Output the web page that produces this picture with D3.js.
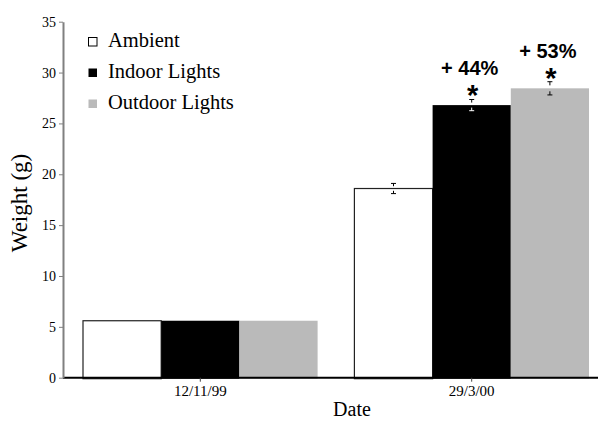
<!DOCTYPE html>
<html>
<head>
<meta charset="utf-8">
<script src="https://cdn.jsdelivr.net/npm/d3@7"></script>
<style>
  html, body { margin: 0; padding: 0; background: #fff; }
  svg { display: block; }
</style>
</head>
<body>
<svg id="chart" width="598" height="421"></svg>
<script>
// Sampling dates and treatment groups
const dates = ["12/11/99", "29/3/00"];
const series = ["Ambient", "Indoor Lights", "Outdoor Lights"];
const seriesColors = ["#ffffff", "#000000", "#bababa"];

// Mean weight (g) per series, one value per date
const ambientValues = [5.6, 18.6];
const indoorValues = [5.6, 26.8];
const outdoorValues = [5.6, 28.45];
// Standard errors (0 = no bar drawn)
const ambientErrors = [0, 0.5];
const indoorErrors = [0, 0.55];
const outdoorErrors = [0, 0.65];

// Significance annotations above bars (date, series, label)
const annotations = [
  { date: "29/3/00", series: "Indoor Lights", label: "+ 44%" },
  { date: "29/3/00", series: "Outdoor Lights", label: "+ 53%" }
];

const yTicks = [0, 5, 10, 15, 20, 25, 30, 35];

const valuesBySeries = [ambientValues, indoorValues, outdoorValues];
const errorsBySeries = [ambientErrors, indoorErrors, outdoorErrors];
const rows = [];
dates.forEach((d, i) => {
  series.forEach((s, j) => {
    rows.push({ date: d, series: s, value: valuesBySeries[j][i], err: errorsBySeries[j][i], color: seriesColors[j] });
  });
});

const svg = d3.select("#chart");
const serif = "'Liberation Serif', 'Times New Roman', serif";
const sans = "'Liberation Sans', Arial, sans-serif";

const y = d3.scaleLinear().domain([0, 35]).range([377.7, 21.7]);
const x0 = d3.scaleBand().domain(dates).range([63, 609]).paddingInner(0.1356).paddingOuter(0.0737);
const x1 = d3.scaleBand().domain(series).range([0, x0.bandwidth()]).padding(0);

// Bars
const g = svg.append("g");
g.selectAll("rect.bar")
  .data(rows)
  .join("rect")
  .attr("class", "bar")
  .attr("x", d => x0(d.date) + x1(d.series))
  .attr("y", d => y(d.value))
  .attr("width", x1.bandwidth())
  .attr("height", d => y(0) - y(d.value) + 1)
  .attr("fill", d => d.color)
  .attr("stroke", d => d.color === "#ffffff" ? "#222" : "none")
  .attr("stroke-width", 1.2);

// Baseline along zero
svg.append("line")
  .attr("x1", 63).attr("x2", 598)
  .attr("y1", y(0)).attr("y2", y(0))
  .attr("stroke", "#000").attr("stroke-width", 2);

// Error bars: upper T above the bar top, lower inverted T inside the bar
const withErr = rows.filter(d => d.err > 0);
const capW = 2.5;
withErr.forEach(d => {
  const cx = x0(d.date) + x1(d.series) + x1.bandwidth() / 2;
  const inner = d.color === "#000000" ? "#fff" : "#000";
  g.append("path")
    .attr("d", `M${cx - capW},${y(d.value + d.err)}H${cx + capW}M${cx},${y(d.value + d.err)}V${y(d.value + d.err * 0.45)}`)
    .attr("stroke", "#000").attr("stroke-width", 1).attr("fill", "none");
  g.append("path")
    .attr("d", `M${cx - capW},${y(d.value - d.err)}H${cx + capW}M${cx},${y(d.value - d.err)}V${y(d.value - d.err * 0.45)}`)
    .attr("stroke", inner).attr("stroke-width", 1).attr("fill", "none");
});

// Annotations: percentage and asterisk
annotations.forEach(a => {
  const r = rows.find(d => d.date === a.date && d.series === a.series);
  const cx = x0(r.date) + x1(r.series) + x1.bandwidth() / 2;
  const top = y(r.value);
  svg.append("text")
    .attr("x", cx - 2).attr("y", top - 30)
    .attr("text-anchor", "middle")
    .attr("font-family", sans).attr("font-weight", "bold").attr("font-size", 20)
    .text(a.label);
  svg.append("text")
    .attr("x", cx + 1).attr("y", top - 0.5)
    .attr("text-anchor", "middle")
    .attr("font-family", sans).attr("font-weight", "bold").attr("font-size", 29)
    .text("*");
});

// Y axis
const yAxis = svg.append("g")
  .attr("transform", "translate(63,0)")
  .call(d3.axisLeft(y).tickValues(yTicks).tickSize(4).tickSizeOuter(0).tickPadding(3));
yAxis.select(".domain").attr("stroke", "#808080").attr("stroke-width", 2);
yAxis.selectAll(".tick line").attr("stroke", "#808080");
yAxis.selectAll(".tick text").attr("font-family", serif).attr("font-size", 14).attr("fill", "#000");

// X axis (ticks at group centres)
const xAxis = svg.append("g")
  .attr("transform", `translate(0,${y(0)})`)
  .call(d3.axisBottom(x0).tickSize(4).tickSizeOuter(0).tickPadding(4));
xAxis.select(".domain").remove();
xAxis.selectAll(".tick line").attr("stroke", "#444");
xAxis.selectAll(".tick text").attr("font-family", serif).attr("font-size", 15).attr("fill", "#000");

// Axis titles
svg.append("text")
  .attr("transform", "translate(27,203) rotate(-90)")
  .attr("text-anchor", "middle")
  .attr("font-family", serif).attr("font-size", 23)
  .text("Weight (g)");
svg.append("text")
  .attr("x", 352).attr("y", 416)
  .attr("text-anchor", "middle")
  .attr("font-family", serif).attr("font-size", 20)
  .text("Date");

// Legend
const legend = svg.append("g").attr("transform", "translate(88,0)");
const legendBase = [47, 78, 109];
series.forEach((s, i) => {
  legend.append("rect")
    .attr("x", 0.5).attr("y", legendBase[i] - 9.5)
    .attr("width", 8.5).attr("height", 8.5)
    .attr("fill", seriesColors[i])
    .attr("stroke", i === 0 ? "#000" : "none");
  legend.append("text")
    .attr("x", 20).attr("y", legendBase[i])
    .attr("font-family", serif).attr("font-size", 20.5)
    .text(s);
});
</script>
</body>
</html>
